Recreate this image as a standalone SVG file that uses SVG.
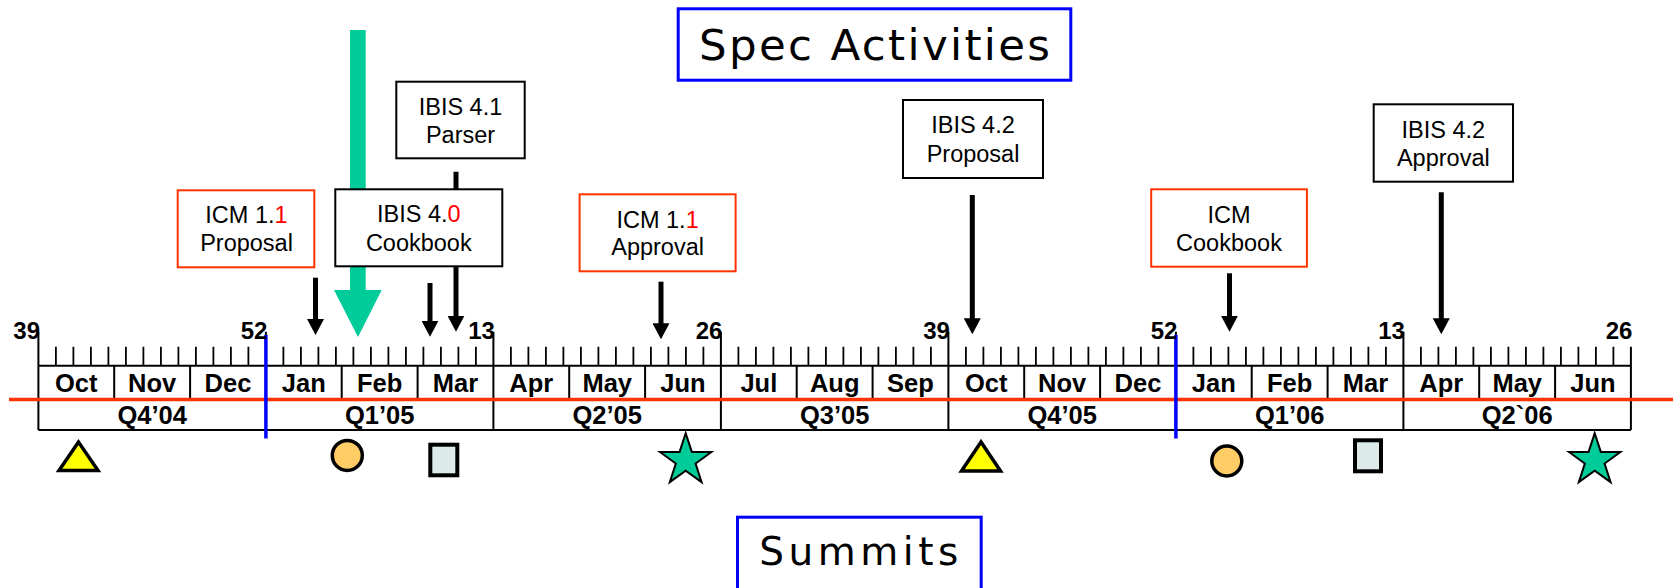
<svg xmlns="http://www.w3.org/2000/svg" width="1678" height="588" viewBox="0 0 1678 588">
<style>
.lbl{font-family:"Liberation Sans",Arial,sans-serif;font-size:23.5px;fill:#000;text-anchor:middle}
.red{fill:#FF0000}
.box{fill:#fff;stroke:#000;stroke-width:2}
.rbox{fill:#fff;stroke:#FF3300;stroke-width:2}
.ax{font-family:"Liberation Sans",Arial,sans-serif;font-weight:bold;font-size:25.5px;fill:#000;text-anchor:middle}
.wk{font-family:"Liberation Sans",Arial,sans-serif;font-weight:bold;font-size:24px;fill:#000;text-anchor:end}
.title{font-family:"DejaVu Sans",Verdana,sans-serif;fill:#000;text-anchor:middle}
.tbox{fill:#fff;stroke:#0000FF;stroke-width:3}
.arr{stroke:#000;stroke-width:5;fill:none;marker-end:url(#ah)}
.ln{stroke:#000;stroke-width:2;fill:none}
.tick{stroke:#000;stroke-width:1.8;fill:none}
.blue{stroke:#0000FF;stroke-width:3.5}
.tri{fill:#FFFF00;stroke:#000;stroke-width:3.5}
.circ{fill:#FFCC66;stroke:#000;stroke-width:3.5}
.sq{fill:#DDEAEA;stroke:#000;stroke-width:4}
.star{fill:#00CC99;stroke:#000;stroke-width:2}
</style>
<defs>
<marker id="ah" markerUnits="userSpaceOnUse" markerWidth="17" markerHeight="16" viewBox="0 0 17 16" refX="8.5" refY="2" orient="0"><path d="M0 0H17L8.5 16Z" fill="#000"/></marker>
<path id="starshape" d="M0 -27L6.11 -8.41L25.68 -8.34L9.89 3.21L15.87 21.84L0 10.4L-15.87 21.84L-9.89 3.21L-25.68 -8.34L-6.11 -8.41Z"/>
</defs>

<!-- Timeline axis -->
<g id="axis">
<path class="tick" d="M55.9 346.7v19m17.5-19v19m17.5-19v19m17.5-19v19m17.5-19v19m17.5-19v19m17.5-19v19m17.5-19v19m17.5-19v19m17.5-19v19m17.5-19v19m17.5-19v19m35-19v19m17.5-19v19m17.5-19v19m17.5-19v19m17.5-19v19m17.5-19v19m17.5-19v19m17.5-19v19m17.5-19v19m17.5-19v19m17.5-19v19m17.5-19v19m35-19v19m17.5-19v19m17.5-19v19m17.5-19v19m17.5-19v19m17.5-19v19m17.5-19v19m17.5-19v19m17.5-19v19m17.5-19v19m17.5-19v19m17.5-19v19m35-19v19m17.5-19v19m17.5-19v19m17.5-19v19m17.5-19v19m17.5-19v19m17.5-19v19m17.5-19v19m17.5-19v19m17.5-19v19m17.5-19v19m17.5-19v19m35-19v19m17.5-19v19m17.5-19v19m17.5-19v19m17.5-19v19m17.5-19v19m17.5-19v19m17.5-19v19m17.5-19v19m17.5-19v19m17.5-19v19m17.5-19v19m35-19v19m17.5-19v19m17.5-19v19m17.5-19v19m17.5-19v19m17.5-19v19m17.5-19v19m17.5-19v19m17.5-19v19m17.5-19v19m17.5-19v19m17.5-19v19m35-19v19m17.5-19v19m17.5-19v19m17.5-19v19m17.5-19v19m17.5-19v19m17.5-19v19m17.5-19v19m17.5-19v19m17.5-19v19m17.5-19v19m17.5-19v19"/>
<path class="ln" d="M38.4 365.7H1630.9M38.4 430H1630.9"/>
<path class="ln" d="M38.4 331.7V430M265.9 331.7V430M493.4 331.7V430M720.9 331.7V430M948.4 331.7V430M1175.9 331.7V430M1403.4 331.7V430M1630.9 346.7V430"/>
<path class="ln" d="M114.2 365.7V399M190.1 365.7V399M341.7 365.7V399M417.6 365.7V399M569.2 365.7V399M645.1 365.7V399M796.7 365.7V399M872.6 365.7V399M1024.2 365.7V399M1100.1 365.7V399M1251.7 365.7V399M1327.6 365.7V399M1479.2 365.7V399M1555.1 365.7V399"/>
<line x1="9" y1="399.5" x2="1673" y2="399.5" stroke="#FF3300" stroke-width="3.3"/>
<line class="blue" x1="265.9" y1="335" x2="265.9" y2="438.5"/>
<line class="blue" x1="1175.9" y1="335" x2="1175.9" y2="438.5"/>
<text class="wk" x="40" y="338.5">39</text>
<text class="wk" x="267.4" y="338.5">52</text>
<text class="wk" x="494.9" y="338.5">13</text>
<text class="wk" x="722.4" y="338.5">26</text>
<text class="wk" x="949.9" y="338.5">39</text>
<text class="wk" x="1177.4" y="338.5">52</text>
<text class="wk" x="1404.9" y="338.5">13</text>
<text class="wk" x="1632.4" y="338.5">26</text>
<text class="ax" y="391.7"><tspan x="76.3">Oct</tspan><tspan x="152.2">Nov</tspan><tspan x="228">Dec</tspan><tspan x="303.8">Jan</tspan><tspan x="379.7">Feb</tspan><tspan x="455.5">Mar</tspan><tspan x="531.3">Apr</tspan><tspan x="607.2">May</tspan><tspan x="683">Jun</tspan><tspan x="758.8">Jul</tspan><tspan x="834.7">Aug</tspan><tspan x="910.5">Sep</tspan><tspan x="986.3">Oct</tspan><tspan x="1062.2">Nov</tspan><tspan x="1138">Dec</tspan><tspan x="1213.8">Jan</tspan><tspan x="1289.7">Feb</tspan><tspan x="1365.5">Mar</tspan><tspan x="1441.3">Apr</tspan><tspan x="1517.2">May</tspan><tspan x="1593">Jun</tspan></text>
<text class="ax" y="424"><tspan x="152.2">Q4’04</tspan><tspan x="379.7">Q1’05</tspan><tspan x="607.2">Q2’05</tspan><tspan x="834.7">Q3’05</tspan><tspan x="1062.2">Q4’05</tspan><tspan x="1289.7">Q1’06</tspan><tspan x="1517.2">Q2`06</tspan></text>
</g>

<!-- Summit markers -->
<g id="markers">
<polygon class="tri" points="78.5,442 59,470.5 98,470.5"/>
<circle class="circ" cx="347.3" cy="455.4" r="15"/>
<rect class="sq" x="430.3" y="444.7" width="27" height="30.6"/>
<use href="#starshape" class="star" transform="translate(685.7 460.3)"/>
<polygon class="tri" points="981,442 961.5,471 1000.5,471"/>
<circle class="circ" cx="1226.8" cy="461" r="15"/>
<rect class="sq" x="1355" y="440.3" width="26" height="31"/>
<use href="#starshape" class="star" transform="translate(1594.7 460.3)"/>
</g>

<!-- Connectors -->
<g id="connectors">
<polygon points="350,30 365.7,30 365.7,290 381.7,290 358,337 334,290 350,290" fill="#00CC99"/>
<path class="arr" d="M315.5 277.7V321"/>
<path class="arr" d="M430 283V322.7"/>
<path class="arr" d="M456 171.7V317.7"/>
<path class="arr" d="M661 281.7V325.3"/>
<path class="arr" d="M972.3 195V320.3"/>
<path class="arr" d="M1229.5 273.3V317.7"/>
<path class="arr" d="M1441.3 192.3V320.3"/>
</g>

<!-- Nodes -->
<g id="spec-activities">
<rect class="tbox" x="678.2" y="8.8" width="392.6" height="71.4"/>
<text class="title" x="874.5" y="60" font-size="43.5" textLength="351" lengthAdjust="spacing">Spec Activities</text>
</g>
<g id="summits">
<rect class="tbox" x="737.5" y="517.2" width="243.7" height="80"/>
<text class="title" x="858.8" y="565" font-size="39" textLength="199" lengthAdjust="spacing">Summits</text>
</g>
<g id="icm11-proposal">
<rect class="rbox" x="177.7" y="190.3" width="136.6" height="77"/>
<text class="lbl" x="246.5" y="223.3">ICM 1.<tspan class="red">1</tspan></text>
<text class="lbl" x="246.5" y="251">Proposal</text>
</g>
<g id="ibis41-parser">
<rect class="box" x="396.3" y="81.7" width="128.4" height="76.6"/>
<text class="lbl" x="460.5" y="115">IBIS 4.1</text>
<text class="lbl" x="460.5" y="142.7">Parser</text>
</g>
<g id="ibis40-cookbook">
<rect class="box" x="335.3" y="189.3" width="167" height="77"/>
<text class="lbl" x="418.8" y="222.3">IBIS 4.<tspan class="red">0</tspan></text>
<text class="lbl" x="418.8" y="250.7">Cookbook</text>
</g>
<g id="icm11-approval">
<rect class="rbox" x="579.6" y="194.3" width="156" height="77"/>
<text class="lbl" x="657.6" y="227.7">ICM 1.<tspan class="red">1</tspan></text>
<text class="lbl" x="657.6" y="255">Approval</text>
</g>
<g id="ibis42-proposal">
<rect class="box" x="903" y="100" width="140" height="78"/>
<text class="lbl" x="973" y="133.3">IBIS 4.2</text>
<text class="lbl" x="973" y="161.7">Proposal</text>
</g>
<g id="icm-cookbook">
<rect class="rbox" x="1151.2" y="189.3" width="155.7" height="77.4"/>
<text class="lbl" x="1229" y="223.3">ICM</text>
<text class="lbl" x="1229" y="251">Cookbook</text>
</g>
<g id="ibis42-approval">
<rect class="box" x="1373.7" y="104.3" width="139.3" height="77.4"/>
<text class="lbl" x="1443.3" y="138.3">IBIS 4.2</text>
<text class="lbl" x="1443.3" y="166">Approval</text>
</g>
</svg>
